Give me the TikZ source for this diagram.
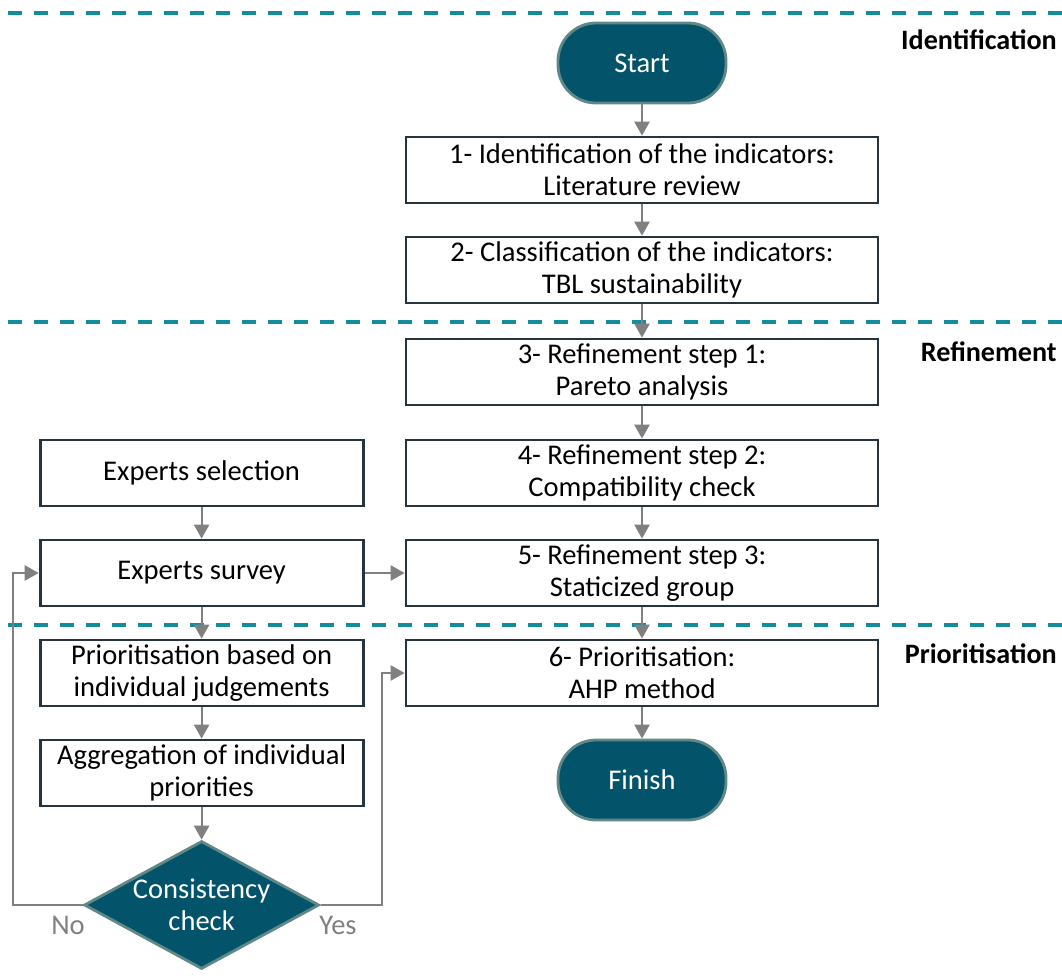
\documentclass[tikz,border=0pt]{standalone}
\usepackage{fontspec}
\setmainfont{Carlito}
\usetikzlibrary{shapes.geometric,arrows.meta}
\definecolor{termfill}{RGB}{3,83,107}
\definecolor{termline}{RGB}{96,136,134}
\definecolor{boxline}{RGB}{38,52,64}
\definecolor{flowgray}{RGB}{128,128,128}
\definecolor{phaseline}{RGB}{20,140,160}
\tikzset{
  stepbox/.style={draw=boxline, line width=2pt, fill=white, minimum width=11.8cm, minimum height=1.65cm, align=center, inner sep=0pt},
  sidebox/.style={stepbox, minimum width=8.075cm},
  term/.style={draw=termline, line width=2pt, fill=termfill, text=white, rounded corners=0.95cm, minimum width=4.2cm, minimum height=2cm},
  flow/.style={draw=flowgray, line width=1.4pt, -{Triangle[length=0.35cm,width=0.38cm]}},
  phase/.style={draw=phaseline, line width=2.2pt, dash pattern=on 0.35cm off 0.3cm},
  phasename/.style={font=\fontsize{20pt}{23pt}\selectfont\bfseries, anchor=east, inner sep=0pt},
}
\begin{document}
\begin{tikzpicture}[font=\fontsize{20.3pt}{23pt}\selectfont]
\useasboundingbox (0,0) rectangle (26.55,-24.475);
% phase separators
\draw[phase] (0.2,-0.325)--(26.55,-0.325);
\draw[phase] (0.2,-8.05)--(26.55,-8.05);
\draw[phase] (0.2,-15.625)--(26.55,-15.625);
\node[phasename] (pid) at (26.425,-1.0) {Identification};
\node[phasename] (pref) at (26.425,-8.8) {Refinement};
\node[phasename] (ppri) at (26.425,-16.35) {Prioritisation};
% main column
\node[term] (start) at (16.05,-1.575) {Start};
\node[stepbox] (s1) at (16.05,-4.25) {1- Identification of the indicators:\\Literature review};
\node[stepbox] (s2) at (16.05,-6.75) {2- Classification of the indicators:\\TBL sustainability};
\node[stepbox] (s3) at (16.05,-9.3) {3- Refinement step 1:\\Pareto analysis};
\node[stepbox] (s4) at (16.05,-11.825) {4- Refinement step 2:\\Compatibility check};
\node[stepbox] (s5) at (16.05,-14.325) {5- Refinement step 3:\\Staticized group};
\node[stepbox] (s6) at (16.05,-16.825) {6- Prioritisation:\\AHP method};
\node[term] (finish) at (16.05,-19.5) {Finish};
% experts column
\node[sidebox] (sel) at (5.04,-11.825) {Experts selection};
\node[sidebox] (survey) at (5.04,-14.325) {Experts survey};
\node[sidebox] (judge) at (5.04,-16.825) {Prioritisation based on\\individual judgements};
\node[sidebox] (aggr) at (5.04,-19.325) {Aggregation of individual\\priorities};
\node[diamond, draw=termline, line width=2pt, fill=termfill, minimum width=5.875cm, minimum height=3.2cm, inner sep=0pt] (chk) at (5.04,-22.625) {};
\node[text=white, align=center] (chktxt) at (chk) {Consistency\\check};
\coordinate (nocorner) at (0.325,-22.625);
\coordinate (yescorner) at (9.55,-22.625);
% connectors
\draw[flow] (start)--(s1);
\draw[flow] (s1)--(s2);
\draw[flow] (s2)--(s3);
\draw[flow] (s3)--(s4);
\draw[flow] (s4)--(s5);
\draw[flow] (s5)--(s6);
\draw[flow] (s6)--(finish);
\draw[flow] (sel)--(survey);
\draw[flow] (survey)--(judge);
\draw[flow] (judge)--(aggr);
\draw[flow] (aggr)--(chk);
\draw[flow] (survey)--(s5);
\draw[flow] (chk.west)--(nocorner)|-(survey.west);
\draw[flow] (chk.east)--(yescorner)|-(s6.west);
\node[text=flowgray] (no) at (1.7,-23.125) {No};
\node[text=flowgray] (yes) at (8.45,-23.125) {Yes};
\end{tikzpicture}
\end{document}
